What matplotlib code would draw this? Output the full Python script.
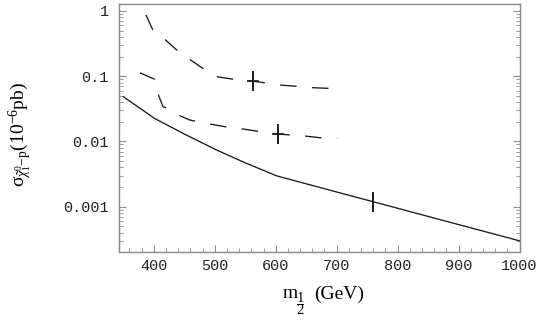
import matplotlib
matplotlib.use("Agg")
import matplotlib.pyplot as plt
from matplotlib.lines import Line2D
import numpy as np

# ---- data ----
solid_m = [350, 401, 450, 503, 550, 601, 700, 800, 900, 1000]
solid_v = [0.0485, 0.0226, 0.013, 0.0074, 0.0047, 0.00298, 0.00168, 0.000946, 0.000532, 0.0003]

upper_m = [387, 398, 419, 439, 460, 482, 504, 531, 562, 609, 635, 661, 690]
upper_v = [0.87, 0.52, 0.36, 0.246, 0.178, 0.129, 0.098, 0.0897, 0.084, 0.073, 0.070, 0.0667, 0.065]

lower_m = [377, 401.6, 407, 415, 418, 440, 459, 492, 517, 541, 569, 603, 648, 673, 701]
lower_v = [0.113, 0.0897, 0.0533, 0.034, 0.0335, 0.0254, 0.0213, 0.0185, 0.0168, 0.0158, 0.0144, 0.013, 0.0121, 0.0114, 0.0112]

mark_m = [562, 603, 760]
mark_v = [0.084, 0.013, 0.00118]

xticks = [400, 500, 600, 700, 800, 900, 1000]
yticks = [0.001, 0.01, 0.1, 1]
ytick_labels = ["0.001", "0.01", "0.1", "1"]

plt.rcParams['lines.scale_dashes'] = False
plt.rcParams['mathtext.fontset'] = 'custom'
plt.rcParams['mathtext.rm'] = 'Liberation Serif'
plt.rcParams['mathtext.it'] = 'Liberation Serif:italic'
plt.rcParams['mathtext.bf'] = 'Liberation Serif:bold'
plt.rcParams['mathtext.fallback'] = 'stix'
plt.rcParams['font.family'] = ['Liberation Serif', 'DejaVu Serif']

W, H = 545, 324
fig = plt.figure(figsize=(W/100, H/100), dpi=100)
ax = fig.add_axes([118.5/W, 1-252/H, (519.5-118.5)/W, (252-4)/H])

lc = '#1a1a1a'
ax.plot(solid_m, solid_v, color=lc, lw=0.95)
ax.plot(upper_m, upper_v, color=lc, lw=0.95, dashes=(11.9, 11.1))
ax.plot(lower_m, lower_v, color=lc, lw=0.95, dashes=(11.9, 11.1))
ax.plot(mark_m, mark_v, ls='none', marker='|', markersize=14.6, mew=1.4, color=lc)
ax.plot(mark_m[:2], mark_v[:2], ls='none', marker='_', markersize=8, mew=1.2, color=lc)

ax.set_yscale('log')
ax.set_xlim(342, 1000)
ax.set_ylim(2.02e-4, 1.28)

frame_c = '#8a8a8a'
for s in ax.spines.values():
    s.set_color(frame_c)
    s.set_linewidth(1.0)

ax.set_xticks(xticks)
ax.set_xticklabels([str(t) for t in xticks])
ax.set_xticks(np.arange(360, 1000, 20), minor=True)
ax.set_yticks(yticks)
ax.set_yticklabels(ytick_labels)
ax.yaxis.set_minor_locator(matplotlib.ticker.LogLocator(base=10, subs=np.arange(2, 10)))
ax.yaxis.set_minor_formatter(matplotlib.ticker.NullFormatter())

ax.tick_params(axis='both', which='both', direction='in', color=frame_c,
               labelcolor='#222222', right=True, top=False)
ax.tick_params(axis='both', which='major', length=5, width=0.8)
ax.tick_params(axis='both', which='minor', length=2.8, width=0.6)
ax.tick_params(axis='x', which='major', pad=5)
ax.tick_params(axis='y', which='major', pad=7)
for lab in ax.get_xticklabels() + ax.get_yticklabels():
    lab.set_family(['Liberation Mono', 'DejaVu Sans Mono'])
    lab.set_fontsize(11)

# x label: m with a 1/2 fraction subscript, built from plain text pieces
def fx(px):
    return px / W
def fy(py):
    return 1 - py / H

fig.text(fx(282.5), fy(298.5), 'm', ha='left', va='baseline', fontsize=14)
fig.text(fx(300), fy(302.5), '1', ha='center', va='baseline', fontsize=10.5)
fig.add_artist(Line2D([fx(296.8), fx(303.2)], [fy(304), fy(304)], color='black', lw=0.8))
fig.text(fx(300), fy(314.5), '2', ha='center', va='baseline', fontsize=10.5)
fig.text(fx(314.5), fy(298.5), '(GeV)', ha='left', va='baseline', fontsize=14)

fig.text(20/W, 1-134/H, r'$\mathrm{\sigma}_{\tilde{\chi}^0_1\mathrm{-p}}\mathrm{(10^{-6}pb)}$',
         ha='center', va='center', rotation=90, fontsize=14)

fig.savefig('out.png', dpi=100)
